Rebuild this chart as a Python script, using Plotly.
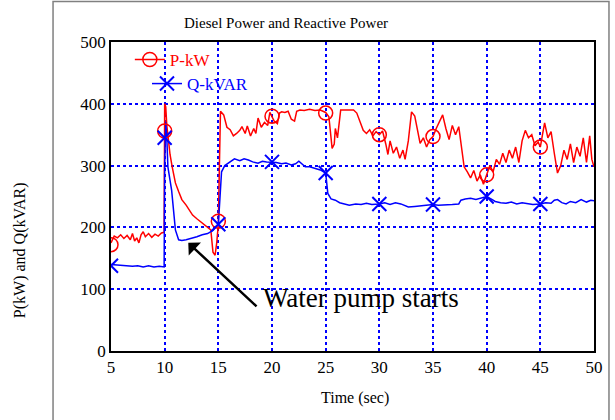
import plotly.graph_objects as go

# P (kW)
p_time = [
    5.0, 5.3, 5.6, 5.9, 6.2, 6.5, 6.8, 7.0, 7.2, 7.4, 7.6, 7.8, 8.0, 8.2, 8.5,
    8.8, 9.1, 9.4, 9.7, 9.95, 10.0, 10.1, 10.2, 10.3, 10.5, 10.7, 11.0, 11.3,
    11.6, 12.0, 12.3, 12.6, 13.0, 13.3, 13.6, 14.0, 14.3, 14.5, 14.7, 14.85,
    15.0, 15.1, 15.2, 15.5, 15.8, 16.1, 16.4, 16.7, 17.0, 17.2, 17.5, 17.7,
    18.0, 18.3, 18.5, 18.7, 19.0, 19.3, 19.6, 19.8, 20.0, 20.2, 20.5, 20.7,
    20.9, 21.2, 21.5, 21.8, 22.1, 22.3, 22.6, 23.0, 23.5, 24.0, 24.5, 25.0,
    25.3, 25.5, 25.6, 25.8, 25.9, 26.1, 26.2, 26.4, 27.0, 27.6, 27.9, 28.2,
    28.5, 28.8, 29.1, 29.4, 29.7, 30.0, 30.3, 30.6, 30.8, 31.0, 31.3, 31.6,
    31.9, 32.2, 32.4, 32.7, 33.0, 33.3, 33.5, 33.8, 34.1, 34.4, 34.7, 35.0,
    35.3, 35.6, 35.9, 36.2, 36.5, 36.8, 37.1, 37.4, 37.7, 37.9, 38.2, 38.5,
    38.8, 39.1, 39.4, 39.7, 40.0, 40.3, 40.6, 40.9, 41.2, 41.5, 41.8, 42.1,
    42.4, 42.7, 43.0, 43.3, 43.6, 43.9, 44.2, 44.5, 44.8, 45.0, 45.2, 45.4,
    45.7, 46.0, 46.3, 46.6, 46.9, 47.2, 47.5, 47.8, 48.1, 48.4, 48.7, 49.0,
    49.3, 49.6, 49.8, 50.0,
]
p_kw = [
    175, 186, 183, 188, 182, 187, 180, 190, 178, 183, 175, 188, 193, 185, 190,
    184, 189, 186, 191, 192, 400, 395, 365, 345, 318, 298, 272, 258,
    245, 236, 228, 220, 214, 210, 206, 201, 196, 160, 155, 175,
    205, 300, 388, 382, 362, 358, 348, 352, 357, 363, 352, 364,
    348, 360, 352, 377, 362, 370, 365, 386, 380, 372, 368, 385,
    387, 386, 388, 375, 372, 388, 390, 389, 391, 389, 390, 386,
    379, 345, 328, 335, 360, 345, 360, 390, 390, 390, 385, 370,
    357, 352, 358, 348, 355, 350, 356, 335, 318, 340, 320, 330,
    312, 325, 310, 340, 387, 380, 360, 336, 345, 330, 342, 347,
    360, 370, 382, 360, 342, 365, 350, 363, 320, 298, 290, 280,
    292, 275, 285, 270, 285, 300, 290, 310, 302, 320, 305, 325,
    312, 330, 305, 340, 357, 345, 350, 332, 338, 330, 350, 369,
    345, 355, 320, 288, 300, 325, 310, 335, 305, 330, 315, 345,
    305, 348, 310, 298,
]

# Q (kVAR)
q_time = [
    5.0, 5.5, 6.0, 6.5, 7.0, 7.5, 8.0, 8.5, 9.0, 9.5, 9.95, 10.0, 10.1, 10.2,
    10.3, 10.65, 11.0, 11.3, 11.6, 12.0, 12.5, 13.0, 13.5, 14.0, 14.5, 14.8,
    15.0, 15.1, 15.3, 15.6, 15.9, 16.2, 16.5, 17.0, 17.4, 17.8, 18.2, 18.7,
    19.1, 19.5, 20.0, 20.4, 20.9, 21.3, 21.8, 22.2, 22.5, 23.1, 23.5, 24.0,
    24.5, 25.0, 25.2, 25.5, 25.9, 26.3, 26.8, 27.2, 27.8, 28.3, 28.8, 29.3,
    30.0, 30.5, 31.0, 31.5, 32.0, 32.7, 33.3, 34.0, 34.5, 35.0, 35.5, 36.2,
    36.8, 37.4, 37.6, 38.0, 38.5, 39.0, 39.5, 40.0, 40.4, 40.8, 41.3, 41.8,
    42.3, 42.8, 43.3, 43.8, 44.3, 45.0, 45.5, 46.0, 46.3, 46.6, 47.0, 47.4,
    47.8, 48.3, 48.8, 49.3, 49.7, 50.0,
]
q_kvar = [
    140, 139, 138, 138, 137, 138, 136, 138, 136, 137, 136, 300, 370, 345,
    298, 260, 196, 180, 179, 180, 182, 185, 188, 190, 195, 200,
    205, 233, 290, 300, 304, 308, 311, 308, 311, 309, 306, 304,
    307, 306, 306, 305, 303, 304, 301, 303, 307, 298, 298, 296,
    293, 288, 255, 246, 244, 240, 238, 236, 238, 237, 239, 237,
    238, 240, 237, 240, 238, 233, 234, 235, 236, 237, 236, 236,
    237, 238, 244, 246, 247, 245, 248, 250, 246, 242, 240, 239,
    241, 238, 240, 238, 237, 238, 240, 239, 244, 245, 240, 238,
    242, 240, 245, 241, 244, 243,
]

# symbols are drawn every 5 s
mark_time = [5, 10, 15, 20, 25, 30, 35, 40, 45]
p_marks = [172, 356, 210, 380, 385, 350, 347, 285, 330]
q_marks = [138, 345, 205, 306, 288, 238, 237, 250, 238]

RED = "#ff0000"
BLUE = "#0000ff"
FONT = "Liberation Serif"

fig = go.Figure()

fig.add_trace(go.Scatter(x=p_time, y=p_kw, mode="lines",
                         line=dict(color=RED, width=1.5), showlegend=False))
fig.add_trace(go.Scatter(x=q_time, y=q_kvar, mode="lines",
                         line=dict(color=BLUE, width=1.5), showlegend=False))
fig.add_trace(go.Scatter(x=mark_time, y=p_marks, mode="markers",
                         marker=dict(symbol="circle-open", size=14,
                                     color=RED, line_width=1.5),
                         showlegend=False))
fig.add_trace(go.Scatter(x=mark_time, y=q_marks, mode="markers",
                         marker=dict(symbol="x-thin-open", size=14,
                                     color=BLUE, line=dict(width=2, color=BLUE)),
                         showlegend=False))

# legend entries (line + symbol), staggered like the original
fig.add_trace(go.Scatter(x=[None], y=[None], mode="lines+markers", name="P-kW",
                         line=dict(color=RED, width=1.5),
                         marker=dict(symbol="circle-open", size=14, color=RED,
                                     line_width=1.5),
                         legend="legend"))
fig.add_trace(go.Scatter(x=[None], y=[None], mode="lines+markers", name="Q-kVAR",
                         line=dict(color=BLUE, width=1.5),
                         marker=dict(symbol="x-thin-open", size=14,
                                     line=dict(width=2, color=BLUE)),
                         legend="legend2"))

grid = dict(showgrid=True, gridcolor=BLUE, gridwidth=1.5, griddash="dot",
            showline=True, linecolor="black", linewidth=1.5, mirror=True,
            ticks="", zeroline=False,
            tickfont=dict(family=FONT, size=17, color="black"))

fig.update_xaxes(range=[5, 50], dtick=5, tick0=5, **grid)
fig.update_yaxes(range=[0, 500], dtick=100, **grid)

label = dict(xref="paper", yref="paper", showarrow=False,
             xanchor="center", yanchor="middle")
fig.add_annotation(text="Diesel Power and Reactive Power", x=0.362, y=1.061,
                   font=dict(family=FONT, size=15, color="black"), **label)
fig.add_annotation(text="Time (sec)", x=0.505, y=-0.152,
                   font=dict(family=FONT, size=16, color="black"), **label)
fig.add_annotation(text="P(kW) and Q(kVAR)", x=-0.188, y=0.327, textangle=-90,
                   font=dict(family=FONT, size=16, color="black"), **label)

# callout
fig.add_annotation(x=12.2, y=175, ax=18.7, ay=70, xref="x", yref="y",
                   axref="x", ayref="y", text="", showarrow=True,
                   arrowhead=1, arrowsize=1.2, arrowwidth=2.5, arrowcolor="black")
fig.add_annotation(text="Water pump starts", x=19.0, y=86, xref="x", yref="y",
                   xanchor="left", yanchor="middle", showarrow=False,
                   font=dict(family=FONT, size=27, color="black"))

# grey frame round the figure
fig.add_shape(type="rect", xref="paper", yref="paper",
              x0=-0.120, x1=1.031, y0=-0.25, y1=1.131,
              line=dict(color="#808080", width=1.5))

legend_style = dict(bgcolor="rgba(0,0,0,0)", borderwidth=0,
                    xanchor="left", yanchor="middle", tracegroupgap=0)

fig.update_layout(
    width=615,
    height=420,
    margin=dict(l=111, r=21, t=42, b=69),
    paper_bgcolor="white",
    plot_bgcolor="white",
    legend=dict(x=0.039, y=0.942, font=dict(family=FONT, size=17, color=RED),
                **legend_style),
    legend2=dict(x=0.0745, y=0.864, font=dict(family=FONT, size=17, color=BLUE),
                 **legend_style),
)

# drop the browser's default 8 px body margin so the figure fills the window
fig.write_html("out.html",
               config={"displayModeBar": False},
               post_script="document.body.style.margin='0';"
                           "document.body.style.overflow='hidden';")
